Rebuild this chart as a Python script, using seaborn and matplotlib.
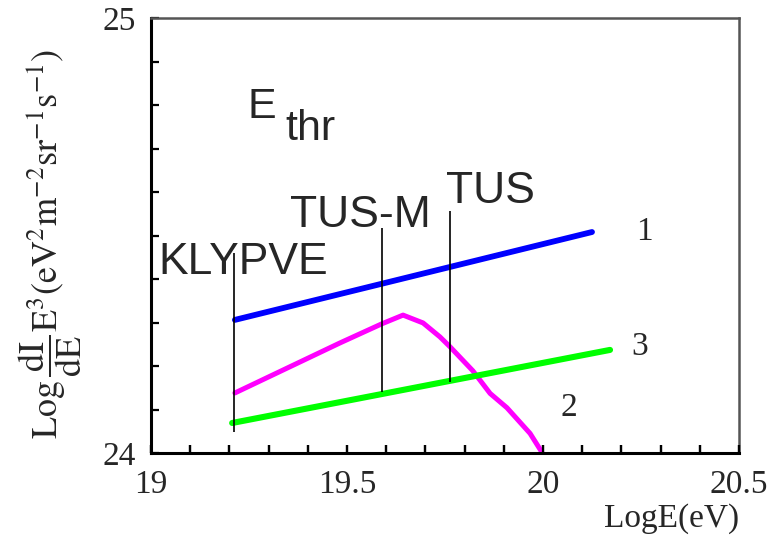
import matplotlib
matplotlib.use("Agg")
import matplotlib.pyplot as plt
import seaborn as sns

# curve 1 (blue), 2 (magenta), 3 (green)
x1 = [19.214, 20.125]
y1 = [24.306, 24.508]

x2 = [19.214, 19.482, 19.589, 19.643, 19.694, 19.737, 19.763, 19.821, 19.865, 19.908, 19.967, 19.997]
y2 = [24.138, 24.253, 24.297, 24.317, 24.299, 24.267, 24.244, 24.189, 24.137, 24.104, 24.045, 24.002]

x3 = [19.207, 20.171]
y3 = [24.069, 24.237]

# threshold markers
thr_names = ["KLYPVE", "TUS-M", "TUS"]
thr_x = [19.212, 19.589, 19.763]
thr_lo = [24.048, 24.140, 24.163]
thr_hi = [24.460, 24.517, 24.556]

x_ticks = [19, 19.5, 20, 20.5]
y_ticks = [24, 25]

sns.set_theme(style="white")
plt.rcParams["font.family"] = ["Liberation Serif", "DejaVu Serif"]
plt.rcParams["mathtext.fontset"] = "stix"

fig = plt.figure(figsize=(7.69, 5.48), dpi=100)
rect = [151 / 769, 95 / 548, 588 / 769, 435 / 548]
ax = fig.add_axes(rect)

sns.lineplot(x=x1, y=y1, color="#0000ff", linewidth=4.2, ax=ax, sort=False)
sns.lineplot(x=x2, y=y2, color="#ff00ff", linewidth=3.6, ax=ax, sort=False)
sns.lineplot(x=x3, y=y3, color="#00ff00", linewidth=4.4, ax=ax, sort=False)

ax.vlines(thr_x, thr_lo, thr_hi, color="black", linewidth=1.2)

sans = ["Liberation Sans", "DejaVu Sans"]
ax.text(19.018, 24.411, "KLYPVE", fontsize=32, family=sans, ha="left", va="baseline")
ax.text(19.355, 24.520, "TUS-M", fontsize=32, family=sans, ha="left", va="baseline")
ax.text(19.753, 24.575, "TUS", fontsize=32, family=sans, ha="left", va="baseline")
ax.text(19.245, 24.770, "E", fontsize=31, family=sans, ha="left", va="baseline")
ax.text(19.342, 24.720, "thr", fontsize=31, family=sans, ha="left", va="baseline")

ax.text(20.260, 24.508, "1", fontsize=24, ha="center", va="center")
ax.text(20.066, 24.103, "2", fontsize=24, ha="center", va="center")
ax.text(20.247, 24.244, "3", fontsize=24, ha="center", va="center")

ax.set_xlabel("LogE(eV)", fontsize=24, loc="right", labelpad=2)
ax.set_ylabel("")
fig.text(0.066, 0.555,
         r"$\mathrm{Log}\,\dfrac{\mathrm{dI}}{\mathrm{dE}}\mathrm{E}^{3}(\mathrm{eV}^{2}\mathrm{m}^{-2}\mathrm{sr}^{-1}\mathrm{s}^{-1})$",
         fontsize=26, rotation=90, ha="center", va="center")

for side in ["left", "bottom"]:
    ax.spines[side].set_color("black")
    ax.spines[side].set_linewidth(2.2)
for side in ["top", "right"]:
    ax.spines[side].set_color("#555555")
    ax.spines[side].set_linewidth(1.8)

ax.set_xlim(19, 20.5)
ax.set_ylim(24, 25)
ax.set_xticks(x_ticks)
ax.set_xticklabels(["19", "19.5", "20", "20.5"])
ax.set_yticks(y_ticks)
ax.set_yticklabels(["24", "25"])
ax.xaxis.set_minor_locator(matplotlib.ticker.MultipleLocator(0.1))
ax.yaxis.set_minor_locator(matplotlib.ticker.MultipleLocator(0.1))
ax.xaxis.set_ticks_position("bottom")
ax.yaxis.set_ticks_position("left")
ax.tick_params(which="both", direction="in", length=6, width=1.6, color="black")
ax.tick_params(axis="x", which="major", labelsize=24, pad=12)
ax.tick_params(axis="y", which="major", labelsize=24, pad=11)

# overlay axes that only carries the bottom tick marks
tax = fig.add_axes(rect, facecolor="none")
tax.set_zorder(5)
tax.set_xlim(19, 20.5)
tax.set_ylim(24, 25)
tax.set_yticks([])
tax.xaxis.set_major_locator(matplotlib.ticker.MultipleLocator(0.1))
tax.tick_params(axis="x", which="major", direction="in", length=6, width=1.6,
                color="black", bottom=True, top=False, labelbottom=False)
for side in tax.spines:
    tax.spines[side].set_visible(False)

fig.savefig("out.png", dpi=100)
